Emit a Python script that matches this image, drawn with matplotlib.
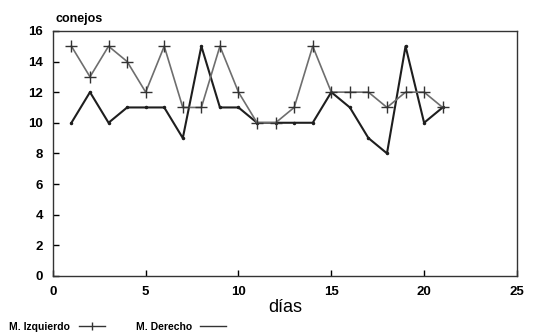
import matplotlib
matplotlib.use('Agg')
import matplotlib.pyplot as plt
from matplotlib.lines import Line2D

plt.rcParams['font.family'] = ['Liberation Sans', 'DejaVu Sans']

# dias y conejos
dias = list(range(1, 22))
izquierdo = [15, 13, 15, 14, 12, 15, 11, 11, 15, 12, 10, 10, 11, 15, 12, 12, 12, 11, 12, 12, 11]
derecho = [10, 12, 10, 11, 11, 11, 9, 15, 11, 11, 10, 10, 10, 10, 12, 11, 9, 8, 15, 10, 11]

fig = plt.figure(figsize=(5.34, 3.36), dpi=100)
ax = fig.add_axes([0.099, 0.179, 0.869, 0.729])

ax.plot(dias, derecho, color='#1e1e1e', lw=1.5, marker='.', ms=3)
ax.plot(dias, izquierdo, color='#6e6e6e', lw=1.2, marker='+', ms=9, mew=1.0, mec='#333333')

ax.set_xlim(0, 25)
ax.set_ylim(0, 16)
ax.set_xticks([0, 5, 10, 15, 20, 25])
ax.set_yticks(range(0, 17, 2))
ax.tick_params(direction='in', length=4, width=1, labelsize=9.5, pad=7)
for lab in ax.get_xticklabels() + ax.get_yticklabels():
    lab.set_fontweight('bold')
for s in ax.spines.values():
    s.set_linewidth(1.0)
    s.set_color('#333333')

ax.set_xlabel('días', fontsize=13, labelpad=1)
fig.text(0.103, 0.935, 'conejos', fontsize=9, fontweight='bold')

# leyenda
h1 = Line2D([0], [0], color='#333333', lw=1, marker='|', ms=6)
h2 = Line2D([0], [0], color='#333333', lw=1)
fig.legend([h1, h2], ['M. Izquierdo', 'M. Derecho'], loc='lower left',
           bbox_to_anchor=(0.0, -0.015), ncol=2, frameon=False,
           markerfirst=False, handlelength=2.5, columnspacing=3.0,
           prop={'weight': 'bold', 'size': 7.5})

fig.savefig('out.png', dpi=100)
